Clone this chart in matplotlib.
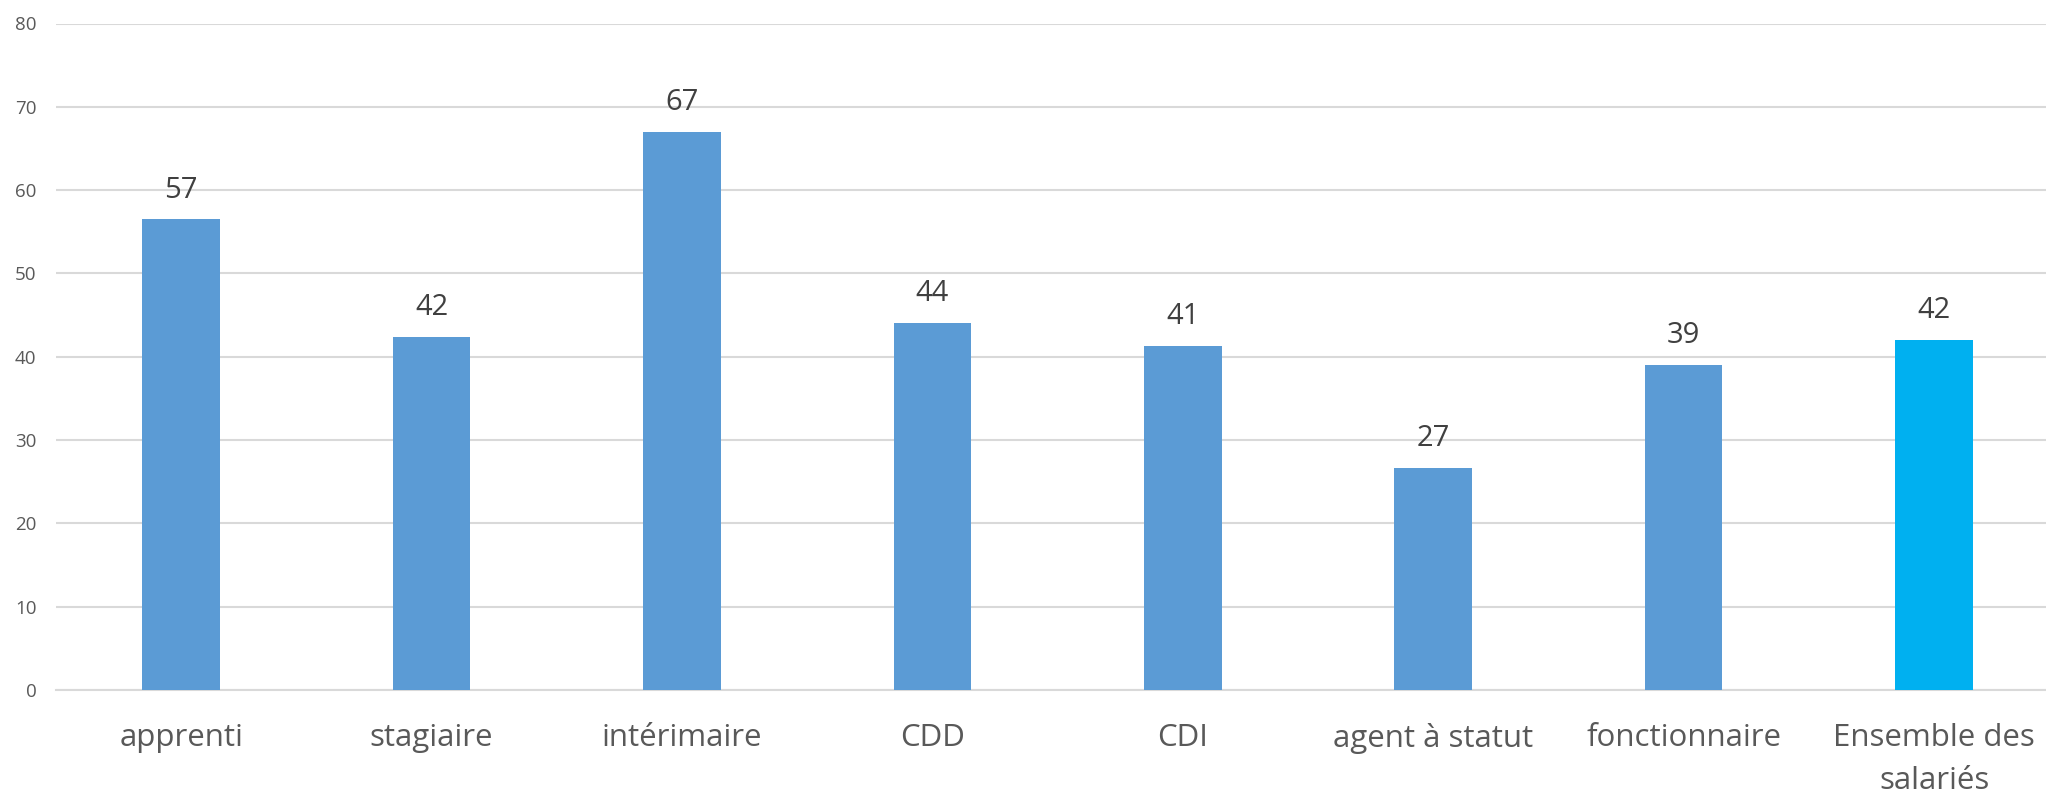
import matplotlib.pyplot as plt

categories = ["apprenti", "stagiaire", "intérimaire", "CDD", "CDI",
              "agent à statut", "fonctionnaire", "Ensemble des\nsalariés"]
values = [56.5, 42.4, 67.0, 44.1, 41.3, 26.7, 39.0, 42.0]
labels = ["57", "42", "67", "44", "41", "27", "39", "42"]
colors = ["#5B9BD5"] * 7 + ["#00B0F0"]

plt.rcParams['font.family'] = ['Open Sans', 'DejaVu Sans']

fig = plt.figure(figsize=(20.46, 7.99), dpi=100)
ax = fig.add_axes([56 / 2046, 1 - 690 / 799, (2046 - 56) / 2046, (690 - 23.5) / 799])

x = range(len(categories))
bars = ax.bar(x, values, width=0.31, color=colors, zorder=3)

for b, lab in zip(bars, labels):
    ax.annotate(lab, (b.get_x() + b.get_width() / 2, b.get_height()),
                xytext=(0, 21), textcoords="offset points",
                ha="center", va="center", fontsize=21, color="#404040")

ax.set_ylim(0, 80)
ax.set_xlim(-0.5, 7.447)
ax.set_yticks(range(0, 81, 10))
ax.set_xticks(list(x))
ax.set_xticklabels(categories, fontsize=22.5, color="#595959", linespacing=1.55)
ax.tick_params(axis="y", labelsize=13.5, colors="#595959", length=0, pad=14)
ax.tick_params(axis="x", length=0, pad=24)
ax.grid(axis="y", color="#D9D9D9", linewidth=1.5, zorder=0)
for s in ["top", "right", "left"]:
    ax.spines[s].set_visible(False)
ax.spines["bottom"].set_color("#D9D9D9")
ax.spines["bottom"].set_linewidth(1.5)

fig.savefig("out.png", dpi=100)
